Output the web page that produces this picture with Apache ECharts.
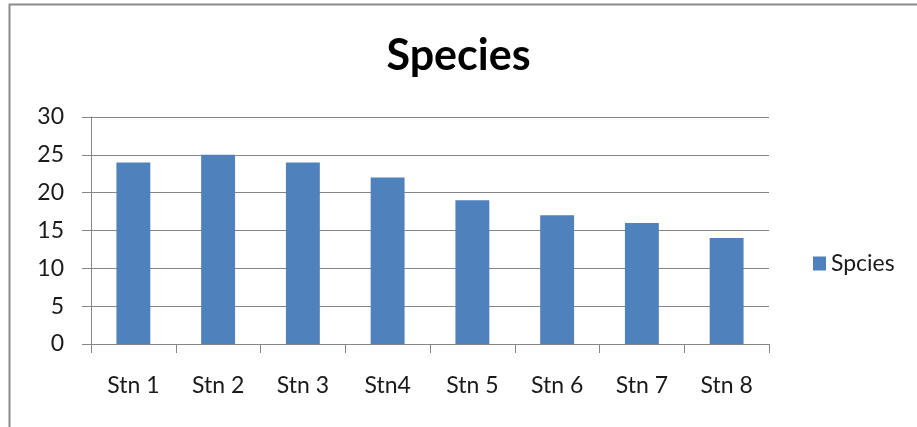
<!DOCTYPE html>
<html>
<head>
<meta charset="utf-8">
<script src="https://cdn.jsdelivr.net/npm/echarts@6/dist/echarts.min.js"></script>
<style>
  html, body { margin: 0; padding: 0; background: #fff; }
  #chart { width: 917px; height: 427px; }
</style>
</head>
<body>
<div id="chart"></div>
<script>
// Station names along the x axis
var stations = ['Stn 1', 'Stn 2', 'Stn 3', 'Stn4', 'Stn 5', 'Stn 6', 'Stn 7', 'Stn 8'];
// Number of species recorded at each station
var speciesCounts = [24, 25, 24, 22, 19, 17, 16, 14];
var seriesName = 'Spcies';
var chartTitle = 'Species';

var font = 'Lato';
var chart = echarts.init(document.getElementById('chart'));
chart.setOption({
  animation: false,
  backgroundColor: '#fff',
  title: {
    text: chartTitle,
    left: 'center',
    top: 30,
    textStyle: { fontFamily: font, fontSize: 43, fontWeight: 'bold', color: '#000' }
  },
  legend: {
    data: [seriesName],
    orient: 'vertical',
    left: 808,
    top: 247,
    icon: 'rect',
    itemWidth: 13,
    itemHeight: 14,
    itemGap: 6,
    itemTextGap: 6,
    textStyle: { fontFamily: font, fontSize: 23, color: '#1a1a1a' }
  },
  graphic: [{
    type: 'rect',
    shape: { x: 9.5, y: 4.5, width: 1000, height: 1000 },
    style: { fill: 'none', stroke: '#8c8c8c', lineWidth: 2 },
    silent: true
  }],
  grid: { left: 91, right: 148, top: 117, bottom: 83 },
  xAxis: {
    type: 'category',
    data: stations,
    axisLine: { lineStyle: { color: '#868686' } },
    axisTick: { show: true, length: 9, lineStyle: { color: '#868686' } },
    axisLabel: { margin: 30, fontFamily: font, fontSize: 23, color: '#1a1a1a' }
  },
  yAxis: {
    type: 'value',
    min: 0,
    max: 30,
    interval: 5,
    axisLine: { show: true, lineStyle: { color: '#868686' } },
    axisTick: { show: true, length: 9, lineStyle: { color: '#868686' } },
    axisLabel: { margin: 27, fontFamily: font, fontSize: 23, color: '#1a1a1a' },
    splitLine: { lineStyle: { color: '#868686' } }
  },
  series: [{
    name: seriesName,
    type: 'bar',
    data: speciesCounts,
    barWidth: '40%',
    itemStyle: { color: '#4F81BD', borderRadius: 0 }
  }]
});
</script>
</body>
</html>
